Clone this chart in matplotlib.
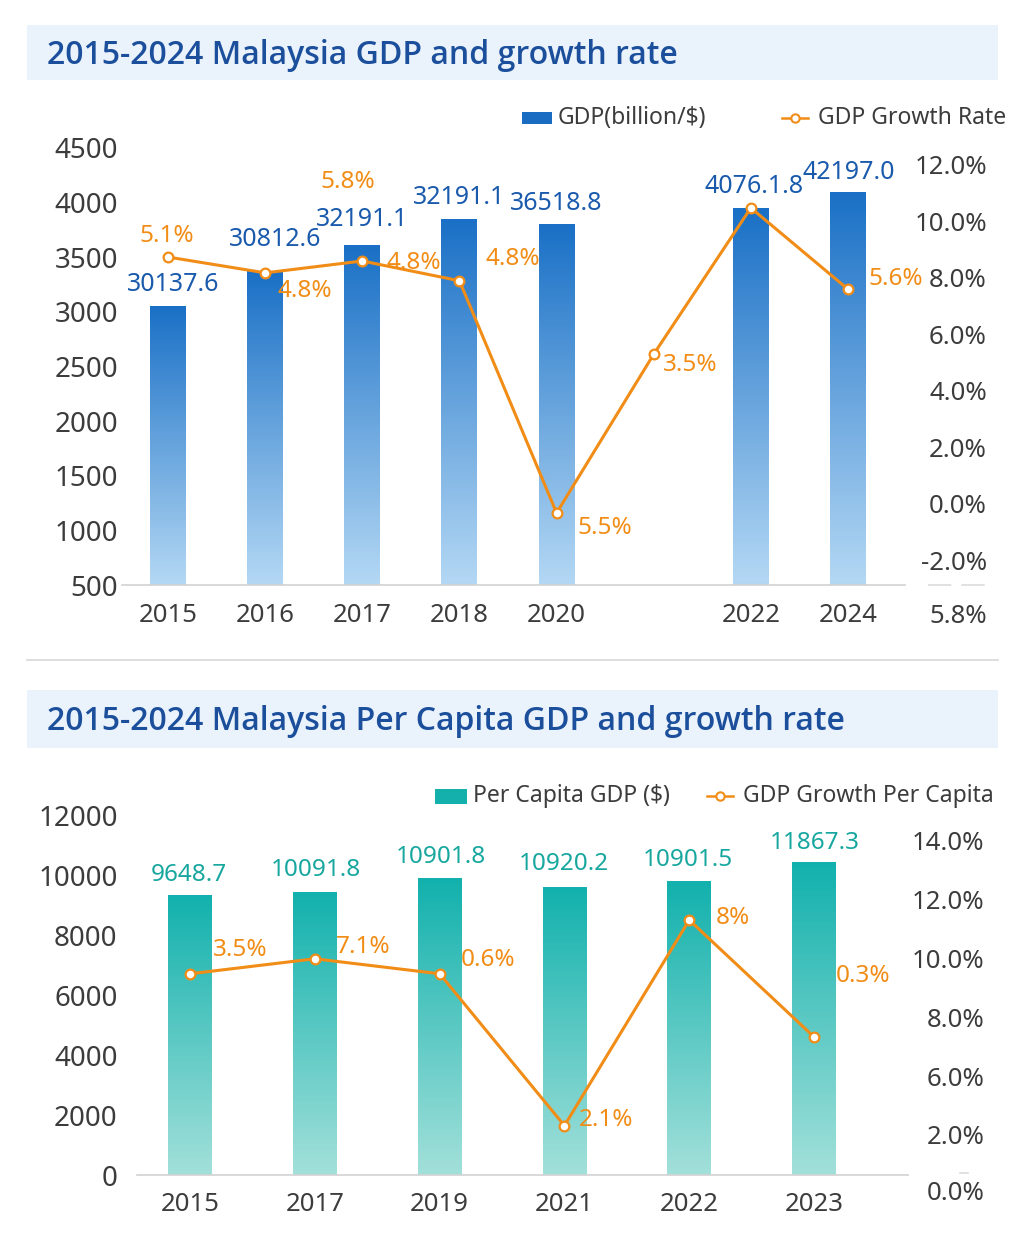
import numpy as np
import matplotlib
matplotlib.use("Agg")
import matplotlib.pyplot as plt
from matplotlib.colors import LinearSegmentedColormap
from matplotlib.lines import Line2D
from matplotlib.patches import Rectangle

plt.rcParams["font.family"] = ["Noto Sans", "DejaVu Sans"]

# GDP chart
gdp_years = ["2015", "2016", "2017", "2018", "2020", "", "2022", "2024"]
gdp_values = [3045, 3365, 3607, 3841, 3804, np.nan, 3944, 4094]
gdp_value_text = ["30137.6", "30812.6", "32191.1", "32191.1", "36518.8", "", "4076.1.8", "42197.0"]
gdp_growth = [8.74, 8.18, 8.6, 7.9, -0.32, 5.3, 10.48, 7.6]
gdp_growth_text = ["5.1%", "4.8%", "5.8%", "4.8%", "4.8%", "5.5%", "3.5%", "5.6%"]
gdp_growth_point = [0, 1, 2, 2, 3, 4, 5, 7]
gdp_left_ticks = [500, 1000, 1500, 2000, 2500, 3000, 3500, 4000, 4500]
gdp_right_ticks = [-2, 0, 2, 4, 6, 8, 10, 12]
gdp_right_labels = ["-2.0%", "0.0%", "2.0%", "4.0%", "6.0%", "8.0%", "10.0%", "12.0%"]

# Per capita chart
pc_years = ["2015", "2017", "2019", "2021", "2022", "2023"]
pc_values = [9333, 9433, 9900, 9600, 9800, 10433]
pc_value_text = ["9648.7", "10091.8", "10901.8", "10920.2", "10901.5", "11867.3"]
pc_growth = [9.48, 9.99, 9.48, 4.31, 11.31, 7.33]
pc_growth_text = ["3.5%", "7.1%", "0.6%", "2.1%", "8%", "0.3%"]
pc_left_ticks = [0, 2000, 4000, 6000, 8000, 10000, 12000]
pc_right_ticks = [4, 6, 8, 10, 12, 14]
pc_right_labels = ["2.0%", "6.0%", "8.0%", "10.0%", "12.0%", "14.0%"]

# label offsets in pixels (x, y up)
gdp_value_offsets = [(5, 22), (10, 32), (0, 26), (0, 22), (0, 21), (0, 0), (3, 22), (1, 20)]
gdp_growth_offsets = [(-1, 21), (40, -18), (-14, 79), (52, -2), (53, 22), (48, -15), (37, -11), (48, 10)]
pc_value_offsets = [(-1, 20), (1, 22), (1, 21), (-1, 23), (-1, 21), (1, 19)]
pc_growth_offsets = [(50, 24), (48, 12), (48, 14), (42, 6), (44, 2), (49, 61)]

W, H = 1024, 1246
ORANGE = "#f18d17"
GREY_TEXT = "#3c3c3c"


def fx(x):
    return x / W


def fy(y):
    return 1 - y / H


def gradient_bars(ax, bars, top_color, bottom_color):
    cmap = LinearSegmentedColormap.from_list("bar", [bottom_color, top_color])
    grad = np.linspace(0, 1, 256).reshape(-1, 1)
    y0 = ax.get_ylim()[0]
    for bar in bars:
        h = bar.get_height()
        if np.isnan(h):
            continue
        x = bar.get_x()
        w = bar.get_width()
        bar.set_facecolor("none")
        bar.set_edgecolor("none")
        ax.imshow(
            grad,
            cmap=cmap,
            aspect="auto",
            origin="lower",
            extent=[x, x + w, y0, bar.get_y() + h],
            zorder=2,
        )


def style_axes(ax, ax2, left_pad, right_pad, x_pad):
    for side in ["top", "left", "right"]:
        ax.spines[side].set_visible(False)
        ax2.spines[side].set_visible(False)
    ax2.spines["bottom"].set_visible(False)
    ax.spines["bottom"].set_color("#d2d2d2")
    ax.spines["bottom"].set_linewidth(1.2)
    ax.tick_params(axis="y", length=0, labelsize=20, labelcolor=GREY_TEXT, pad=left_pad)
    ax.tick_params(axis="x", length=0, labelsize=18.5, labelcolor=GREY_TEXT, pad=x_pad)
    ax2.tick_params(axis="y", length=0, labelsize=18.5, labelcolor=GREY_TEXT, pad=right_pad)
    for lab in ax2.get_yticklabels():
        lab.set_ha("right")


def title_band(text, y_top, y_bottom):
    fig.add_artist(Rectangle((fx(27), fy(y_bottom)), fx(998) - fx(27), fy(y_top) - fy(y_bottom),
                             transform=fig.transFigure, facecolor="#eaf2fc", edgecolor="none"))
    fig.text(fx(47), fy((y_top + y_bottom) / 2 + 3), text, fontsize=23, fontweight="semibold",
             family=["Open Sans", "Noto Sans"], color="#1b4f9c", va="center", ha="left")


def legend_items(box_x, box_color, box_text, line_x, line_text, y, box_w, box_h):
    fig.add_artist(Rectangle((fx(box_x), fy(y + box_h / 2)), box_w / W, box_h / H,
                             transform=fig.transFigure, facecolor=box_color, edgecolor="none"))
    fig.text(fx(box_x + box_w + 6), fy(y), box_text, fontsize=16.5, color=GREY_TEXT, va="center")
    fig.add_artist(Line2D([fx(line_x), fx(line_x + 26)], [fy(y), fy(y)], transform=fig.transFigure,
                          color=ORANGE, lw=1.8))
    fig.add_artist(Line2D([fx(line_x + 13)], [fy(y)], transform=fig.transFigure, color=ORANGE,
                          marker="o", markersize=6, markerfacecolor="white", markeredgewidth=1.5,
                          linestyle="none"))
    fig.text(fx(line_x + 36), fy(y), line_text, fontsize=16.5, color=GREY_TEXT, va="center")


fig = plt.figure(figsize=(W / 100, H / 100), dpi=100)

# ---------- top chart ----------
title_band("2015-2024 Malaysia GDP and growth rate", 25, 80)

ax = fig.add_axes([fx(122), fy(585), (905 - 122) / W, (585 - 148) / H])
ax.set_facecolor("none")
x = np.arange(len(gdp_years))
ax.set_ylim(500, 4500)
bars = ax.bar(x, gdp_values, width=0.37)
gradient_bars(ax, bars, "#1a70c6", "#b4d8f4")
ax.set_xlim(-0.474, 7.587)
ax.set_ylim(500, 4500)
ax.set_yticks(gdp_left_ticks)
ax.set_xticks(x)
ax.set_xticklabels(gdp_years)

for i, (txt, off) in enumerate(zip(gdp_value_text, gdp_value_offsets)):
    if not txt:
        continue
    ax.annotate(txt, xy=(i, gdp_values[i]), xytext=off, textcoords="offset pixels",
                ha="center", va="center", fontsize=18, color="#1a5aad", zorder=5)

ax2 = ax.twinx()
ax2.set_ylim(-2.87, 12.60)
ax2.plot(x, gdp_growth, color=ORANGE, lw=2.2, marker="o", markersize=7,
         markerfacecolor="white", markeredgewidth=1.6, zorder=4)
ax2.set_yticks(gdp_right_ticks)
ax2.set_yticklabels(gdp_right_labels)
for txt, p, off in zip(gdp_growth_text, gdp_growth_point, gdp_growth_offsets):
    ax2.annotate(txt, xy=(p, gdp_growth[p]), xytext=off, textcoords="offset pixels",
                 ha="center", va="center", fontsize=17.5, color=ORANGE)
ax2.annotate("5.8%", xy=(1, -4), xycoords=("axes fraction", "data"), xytext=(82, 0),
             textcoords="offset pixels", ha="right", va="center", fontsize=18.5,
             color=GREY_TEXT, annotation_clip=False)
style_axes(ax, ax2, left_pad=3, right_pad=59, x_pad=13)

fig.add_artist(Line2D([fx(928), fx(993)], [fy(585), fy(585)], transform=fig.transFigure,
                      color="#dcdcdc", lw=1.2, linestyle=(0, (14, 6))))

legend_items(522, "#1a6cc2", "GDP(billion/$)", 782, "GDP Growth Rate", 118, 30, 12)

# divider
fig.add_artist(Line2D([fx(27), fx(998)], [fy(660), fy(660)], transform=fig.transFigure,
                      color="#d8d8d8", lw=1.2))

# ---------- bottom chart ----------
title_band("2015-2024 Malaysia Per Capita GDP and growth rate", 690, 748)

bx = fig.add_axes([fx(137), fy(1175), (908 - 137) / W, (1175 - 815) / H])
bx.set_facecolor("none")
x = np.arange(len(pc_years))
bx.set_ylim(0, 12000)
bars = bx.bar(x, pc_values, width=0.35)
gradient_bars(bx, bars, "#12b1ad", "#a3e0da")
bx.set_xlim(-0.425, 5.753)
bx.set_ylim(0, 12000)
bx.set_yticks(pc_left_ticks)
bx.set_xticks(x)
bx.set_xticklabels(pc_years)

for i, (txt, off) in enumerate(zip(pc_value_text, pc_value_offsets)):
    bx.annotate(txt, xy=(i, pc_values[i]), xytext=off, textcoords="offset pixels",
                ha="center", va="center", fontsize=17.5, color="#17a79f", zorder=5)

bx2 = bx.twinx()
bx2.set_ylim(2.63, 14.885)
bx2.plot(x, pc_growth, color=ORANGE, lw=2.2, marker="o", markersize=7,
         markerfacecolor="white", markeredgewidth=1.6, zorder=4)
bx2.set_yticks(pc_right_ticks)
bx2.set_yticklabels(pc_right_labels)
for i, (txt, off) in enumerate(zip(pc_growth_text, pc_growth_offsets)):
    bx2.annotate(txt, xy=(i, pc_growth[i]), xytext=off, textcoords="offset pixels",
                 ha="center", va="center", fontsize=17.5, color=ORANGE)
bx2.annotate("0.0%", xy=(1, 2), xycoords=("axes fraction", "data"), xytext=(77, 0),
             textcoords="offset pixels", ha="right", va="center", fontsize=18.5,
             color=GREY_TEXT, annotation_clip=False)
style_axes(bx, bx2, left_pad=14, right_pad=55, x_pad=12)

fig.add_artist(Line2D([fx(960), fx(968)], [fy(1173), fy(1173)], transform=fig.transFigure,
                      color="#dcdcdc", lw=1.2))

legend_items(435, "#14b0ab", "Per Capita GDP ($)", 707, "GDP Growth Per Capita", 796, 32, 15)

fig.savefig("out.png", dpi=100)
